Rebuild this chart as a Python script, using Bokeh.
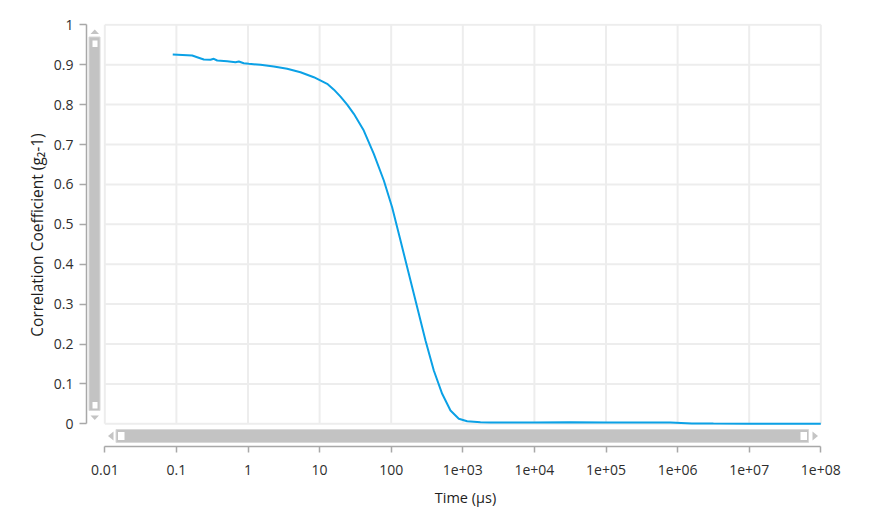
import math
from bokeh.plotting import figure
from bokeh.models import Range1d, FixedTicker, ColumnDataSource
from bokeh.embed import file_html
from bokeh.resources import INLINE

# ---------------- data ----------------
time_us = [0.0889, 0.1663, 0.1950, 0.2415, 0.2992, 0.3327, 0.3715, 0.5117, 0.6683,
           0.7447, 0.8730, 1.026, 1.496, 2.291, 3.524, 5.408, 8.299, 12.76, 15.85, 19.59,
           24.27, 30.06, 41.40, 57.15, 78.89, 103.0, 134.9, 176.2, 230.7, 301.3,
           393.6, 515.2, 673.0, 879.0, 1151, 1766, 2438, 5012, 1.0e4, 3.162e4,
           1.0e5, 3.162e5, 7.943e5, 1.585e6, 3.162e6, 1.0e7, 1.0e8]
g2_minus_1 = [0.9256, 0.9231, 0.9188, 0.9130, 0.9123, 0.9148, 0.9105, 0.9088, 0.9063,
              0.9080, 0.9038, 0.9022, 0.8997, 0.8955, 0.8897, 0.8812, 0.8687, 0.8521, 0.8375,
              0.8200, 0.8000, 0.7769, 0.7350, 0.6767, 0.6098, 0.5429, 0.4594, 0.3759, 0.2922,
              0.2088, 0.1336, 0.0752, 0.0333, 0.0125, 0.0065, 0.0040, 0.0035, 0.0033, 0.0035,
              0.0037, 0.0035, 0.0033, 0.0030, 0.0010, 0.0005, 0.0003, 0.0003]

x_ticks = [0.01, 0.1, 1, 10, 100, 1000, 1e4, 1e5, 1e6, 1e7, 1e8]
x_tick_labels = ["0.01", "0.1", "1", "10", "100", "1e+03", "1e+04", "1e+05",
                 "1e+06", "1e+07", "1e+08"]
y_ticks = [0, 0.1, 0.2, 0.3, 0.4, 0.5, 0.6, 0.7, 0.8, 0.9, 1]
y_tick_labels = ["0", "0.1", "0.2", "0.3", "0.4", "0.5", "0.6", "0.7", "0.8", "0.9", "1"]

x_title = "Time (µs)"
y_title = "Correlation Coefficient (g\u2082-1)"

# ---------------- layout ----------------
FONT = "Open Sans"
TXT = "#2e2e2e"
AX = "#a8a8a8"

FRAME_LEFT, FRAME_RIGHT, FRAME_TOP, FRAME_BOTTOM = 86, 844, 23, 446
W, H = 853, 515
PX_PER_DEC = 71.6
X0_PX = 104.3          # pixel of x = 0.01
PX_PER_UNIT = 399.0
Y0_PX = 423.3          # pixel of y = 0

x_lo = 10 ** (-2 + (FRAME_LEFT - X0_PX) / PX_PER_DEC)
x_hi = 10 ** (-2 + (FRAME_RIGHT - X0_PX) / PX_PER_DEC)
y_hi = (Y0_PX - FRAME_TOP) / PX_PER_UNIT
y_lo = (Y0_PX - FRAME_BOTTOM) / PX_PER_UNIT

p = figure(width=W, height=H, x_axis_type="log",
           x_range=Range1d(x_lo, x_hi), y_range=Range1d(y_lo, y_hi),
           output_backend="svg", toolbar_location=None,
           min_border_left=FRAME_LEFT, min_border_right=W - FRAME_RIGHT,
           min_border_top=FRAME_TOP, min_border_bottom=H - FRAME_BOTTOM)
p.outline_line_color = None
p.background_fill_color = "white"
p.border_fill_color = "white"
p.xgrid.visible = False
p.ygrid.visible = False

# helpers converting pixel positions to data, for the decorative scrollbars
def fx(px):
    return 10 ** (-2 + (px - X0_PX) / PX_PER_DEC)

def fy(py):
    return (Y0_PX - py) / PX_PER_UNIT

# grid lines
p.segment(x0=x_ticks, y0=[0] * len(x_ticks), x1=x_ticks, y1=[1] * len(x_ticks),
          line_color="#ededed", line_width=2)
p.segment(x0=[x_ticks[0]] * len(y_ticks), y0=y_ticks, x1=[x_ticks[-1]] * len(y_ticks),
          y1=y_ticks, line_color="#ededed", line_width=2)

# scrollbars (decorative UI chrome)
SB = "#c3c3c3"
SB_EDGE = "#d8d8d8"
ARROW = "#c4c4c4"
p.quad(left=[fx(88.5)], right=[fx(99.5)], top=[fy(36.5)], bottom=[fy(410)],
       fill_color=SB, line_color=SB_EDGE, line_width=1)
p.quad(left=[fx(92), fx(92)], right=[fx(97), fx(97)], top=[fy(40), fy(401.5)],
       bottom=[fy(46.5), fy(408)], fill_color="white", line_color=None)
p.quad(left=[fx(115.5)], right=[fx(808)], top=[fy(429)], bottom=[fy(442)],
       fill_color=SB, line_color=SB_EDGE, line_width=1)
p.quad(left=[fx(117.5), fx(800)], right=[fx(124), fx(806.5)], top=[fy(431.5), fy(431.5)],
       bottom=[fy(439.5), fy(439.5)], fill_color="white", line_color=None)
tri_x = [[fx(90), fx(98.5), fx(94.25)], [fx(90), fx(98.5), fx(94.25)],
         [fx(113), fx(113), fx(107.5)], [fx(812), fx(812), fx(817.5)]]
tri_y = [[fy(33.5), fy(33.5), fy(29)], [fy(415), fy(415), fy(419.5)],
         [fy(431), fy(440), fy(435.5)], [fy(431), fy(440), fy(435.5)]]
p.patches(xs=tri_x, ys=tri_y, fill_color=ARROW, line_color=None)

# data curve
src = ColumnDataSource(dict(t=time_us, g=g2_minus_1))
p.line("t", "g", source=src, line_color="#0ba1e6", line_width=2)

# axes
p.xaxis.ticker = FixedTicker(ticks=x_ticks, minor_ticks=[])
p.xaxis.major_label_overrides = {t: l for t, l in zip(x_ticks, x_tick_labels)}
p.yaxis.ticker = FixedTicker(ticks=y_ticks, minor_ticks=[])
p.yaxis.major_label_overrides = {t: l for t, l in zip(y_ticks, y_tick_labels)}
p.xaxis.bounds = (x_ticks[0], x_ticks[-1])
p.yaxis.bounds = (y_ticks[0], y_ticks[-1])

for ax in (p.xaxis, p.yaxis):
    ax.axis_line_color = AX
    ax.axis_line_width = 1.5
    ax.major_tick_line_color = AX
    ax.major_tick_line_width = 1.5
    ax.major_tick_in = 0
    ax.minor_tick_line_color = None
    ax.major_label_text_font = FONT
    ax.major_label_text_font_size = "14px"
    ax.major_label_text_color = TXT
    ax.axis_label_text_font = FONT
    ax.axis_label_text_color = "#1e1e1e"
    ax.axis_label_text_font_style = "normal"

p.xaxis.axis_label_text_font_size = "14.5px"
p.yaxis.axis_label_text_font_size = "15.5px"
p.xaxis.major_tick_out = 6
p.yaxis.major_tick_out = 7
p.xaxis.major_label_standoff = 12
p.yaxis.major_label_standoff = 6
p.xaxis.axis_label = x_title
p.yaxis.axis_label = y_title
p.xaxis.axis_label_standoff = 10
p.yaxis.axis_label_standoff = 3

open("out.html", "w").write(file_html(p, INLINE))
